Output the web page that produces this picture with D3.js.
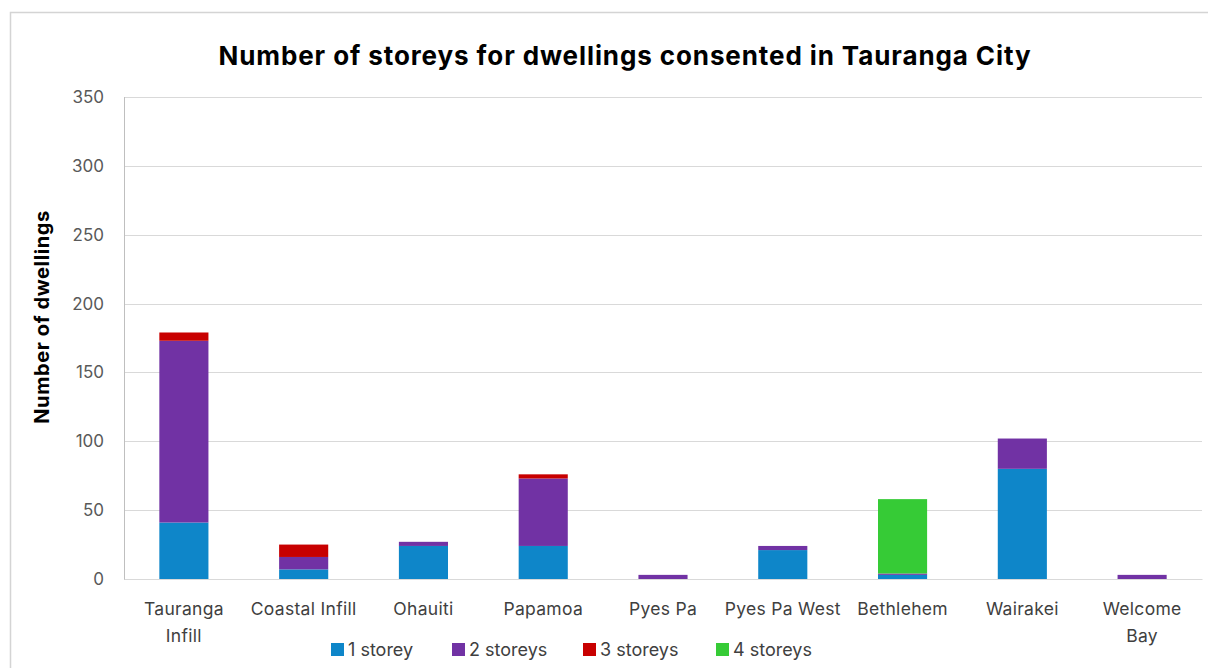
<!DOCTYPE html>
<html>
<head>
<meta charset="utf-8">
<script src="https://cdn.jsdelivr.net/npm/d3@7"></script>
<style>
  html, body { margin: 0; padding: 0; background: #ffffff; }
  svg { display: block; }
  text { font-family: Inter, "Open Sans", sans-serif; }
</style>
</head>
<body>
<svg id="chart" width="1208" height="668"></svg>
<script>
// ---- data ----
const categories = ["Tauranga Infill", "Coastal Infill", "Ohauiti", "Papamoa", "Pyes Pa", "Pyes Pa West", "Bethlehem", "Wairakei", "Welcome Bay"];
const tickLines = [["Tauranga", "Infill"], ["Coastal Infill"], ["Ohauiti"], ["Papamoa"], ["Pyes Pa"], ["Pyes Pa West"], ["Bethlehem"], ["Wairakei"], ["Welcome", "Bay"]];
const seriesNames = ["1 storey", "2 storeys", "3 storeys", "4 storeys"];
const oneStorey   = [41, 7, 24, 24, 0, 21, 3, 80, 0];
const twoStoreys  = [132, 9, 3, 49, 3, 3, 1, 22, 3];
const threeStoreys = [6, 9, 0, 3, 0, 0, 0, 0, 0];
const fourStoreys = [0, 0, 0, 0, 0, 0, 54, 0, 0];
const yTicks = [0, 50, 100, 150, 200, 250, 300, 350];
const colors = ["#0E86C9", "#7132A4", "#C80000", "#36CB36"];
const title = "Number of storeys for dwellings consented in Tauranga City";
const yLabel = "Number of dwellings";

(function () {
// ---- layout ----
const svg = d3.select("#chart");
const pl = 124, pr = 1202, pt = 97, pb = 579;

// chart frame
svg.append("rect").attr("x", 10.5).attr("y", 12.5).attr("width", 1210).attr("height", 700)
  .attr("fill", "#fff").attr("stroke", "#d4d4d4").attr("stroke-width", 1.5);

const table = categories.map((c, i) => ({
  cat: c,
  "1 storey": oneStorey[i],
  "2 storeys": twoStoreys[i],
  "3 storeys": threeStoreys[i],
  "4 storeys": fourStoreys[i]
}));
const stacked = d3.stack().keys(seriesNames)(table);

const x = d3.scaleBand().domain(categories).range([pl, pr]).paddingInner(0.59).paddingOuter(0.295);
const y = d3.scaleLinear().domain([0, 350]).range([pb, pt]);

// gridlines
svg.append("g").selectAll("line").data(yTicks).join("line")
  .attr("x1", pl).attr("x2", pr)
  .attr("y1", d => Math.round(y(d)) + 0.5).attr("y2", d => Math.round(y(d)) + 0.5)
  .attr("stroke", "#d9d9d9").attr("stroke-width", 1);

// y axis line
svg.append("line").attr("x1", pl + 0.5).attr("x2", pl + 0.5).attr("y1", pt).attr("y2", pb + 1)
  .attr("stroke", "#bfbfbf").attr("stroke-width", 1);

// y axis labels
const yAxis = d3.axisLeft(y).tickValues(yTicks).tickSize(0).tickPadding(20);
const yg = svg.append("g").attr("transform", `translate(${pl},0)`).call(yAxis);
yg.select(".domain").remove();
yg.selectAll("text").attr("font-size", 17).attr("fill", "#595959")
  .style("font-family", "Inter, sans-serif");

// bars
svg.append("g").selectAll("g").data(stacked).join("g")
  .attr("fill", (d, i) => colors[i])
  .selectAll("rect").data(d => d).join("rect")
  .attr("x", d => x(d.data.cat))
  .attr("width", x.bandwidth())
  .attr("y", d => y(d[1]))
  .attr("height", d => y(d[0]) - y(d[1]));

// x axis labels
const xAxis = d3.axisBottom(x).tickSize(0).tickFormat(() => "");
const xg = svg.append("g").attr("transform", `translate(0,${pb})`).call(xAxis);
xg.select(".domain").attr("stroke", "#d9d9d9");
xg.selectAll(".tick").each(function(d, i) {
  const t = d3.select(this).append("text")
    .attr("text-anchor", "middle").attr("fill", "#404040").attr("font-size", 17.5)
    .attr("letter-spacing", 0.3)
    .attr("y", 36);
  tickLines[i].forEach((ln, j) => {
    t.append("tspan").attr("x", 0).attr("dy", j === 0 ? 0 : 27).text(ln);
  });
});

// title
svg.append("text").attr("x", 625).attr("y", 65).attr("text-anchor", "middle")
  .attr("font-size", 26).attr("font-weight", 700).attr("fill", "#000")
  .attr("letter-spacing", 0.9)
  .text(title);

// y label
svg.append("text").attr("transform", "translate(49,317) rotate(-90)")
  .attr("text-anchor", "middle").attr("font-size", 20).attr("font-weight", 700).attr("fill", "#000")
  .attr("letter-spacing", 0.6)
  .text(yLabel);

// legend
const legendX = [331, 452, 583, 716];
const lg = svg.append("g").selectAll("g").data(seriesNames).join("g")
  .attr("transform", (d, i) => `translate(${legendX[i]},643)`);
lg.append("rect").attr("width", 13).attr("height", 13).attr("fill", (d, i) => colors[i]);
lg.append("text").attr("x", 17).attr("y", 13).attr("font-size", 18).attr("fill", "#404040").text(d => d);
})();
</script>
</body>
</html>
